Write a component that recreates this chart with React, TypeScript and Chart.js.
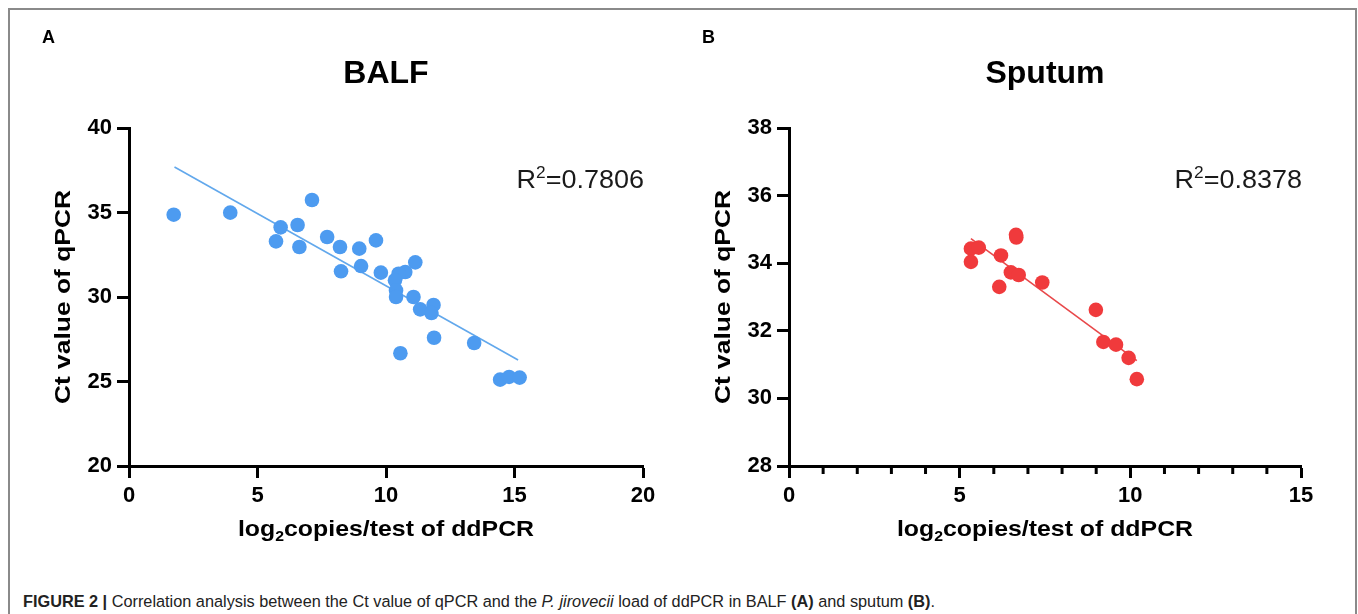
import React, { useEffect, useRef } from "react";
import { Chart, registerables } from "chart.js";

Chart.register(...registerables);

// ---------- data ----------
const balfX = [1.74, 3.94, 7.12, 5.9, 6.56, 5.72, 6.63, 7.71, 8.21, 9.61, 8.96, 8.25, 9.03, 9.8, 11.14, 10.75, 10.49, 10.35, 10.39, 10.39, 11.07, 11.33, 11.85, 11.77, 11.87, 13.43, 10.56, 14.44, 14.79, 15.2];
const balfY = [34.87, 34.99, 35.74, 34.12, 34.26, 33.29, 32.96, 33.55, 32.96, 33.35, 32.86, 31.52, 31.83, 31.44, 32.05, 31.48, 31.38, 30.99, 30.39, 30.0, 30.0, 29.27, 29.53, 29.05, 27.59, 27.28, 26.67, 25.11, 25.27, 25.23];
const balfFitX = [1.77, 15.14];
const balfFitY = [37.69, 26.27];
const balfXTicks = [0, 5, 10, 15, 20];
const balfYTicks = [20, 25, 30, 35, 40];
const balfXMinor: number[] = [];
const balfR2 = "0.7806";

const sputumX = [5.33, 5.56, 5.33, 6.21, 6.65, 6.66, 6.16, 6.5, 6.73, 7.42, 8.99, 9.21, 9.58, 9.95, 10.19];
const sputumY = [34.43, 34.46, 34.04, 34.23, 34.84, 34.76, 33.3, 33.73, 33.65, 33.43, 32.62, 31.67, 31.59, 31.2, 30.57];
const sputumFitX = [5.33, 10.19];
const sputumFitY = [34.73, 31.12];
const sputumXTicks = [0, 5, 10, 15];
const sputumYTicks = [28, 30, 32, 34, 36, 38];
const sputumXMinor = [1, 2, 3, 4, 6, 7, 8, 9, 11, 12, 13, 14];
const sputumR2 = "0.8378";

const FONT = '"Liberation Sans", Arial, Helvetica, sans-serif';

type Panel = {
  letter: string;
  title: string;
  xs: number[];
  ys: number[];
  fitX: number[];
  fitY: number[];
  xTicks: number[];
  yTicks: number[];
  xMinor: number[];
  r2: string;
  color: string;
  lineColor: string;
  left: number;
  width: number;
  plotLeft: number;
  plotRight: number;
};

const CANVAS_H = 560;
const PLOT_TOP = 128;
const PLOT_BOTTOM = 466;

function drawRuns(
  ctx: CanvasRenderingContext2D,
  runs: { text: string; font: string; dy: number }[],
  x: number,
  y: number,
  align: "left" | "center" | "right",
  sx: number
) {
  ctx.save();
  ctx.textBaseline = "alphabetic";
  ctx.textAlign = "left";
  let total = 0;
  const widths = runs.map((r) => {
    ctx.font = r.font;
    const w = ctx.measureText(r.text).width;
    total += w;
    return w;
  });
  total *= sx;
  const start = align === "left" ? x : align === "center" ? x - total / 2 : x - total;
  ctx.translate(start, y);
  ctx.scale(sx, 1);
  let cx = 0;
  runs.forEach((r, i) => {
    ctx.font = r.font;
    ctx.fillText(r.text, cx, r.dy);
    cx += widths[i];
  });
  ctx.restore();
}

function ChartPanel({ p }: { p: Panel }) {
  const ref = useRef<HTMLCanvasElement | null>(null);
  useEffect(() => {
    if (!ref.current) return;
    const overlay = {
      id: "overlay" + p.letter,
      afterDraw(chart: any) {
        const ctx: CanvasRenderingContext2D = chart.ctx;
        const ca = chart.chartArea;
        const xs = chart.scales.x;
        ctx.save();
        ctx.fillStyle = "#000";
        // panel letter
        drawRuns(ctx, [{ text: p.letter, font: `bold 18px ${FONT}`, dy: 0 }], p.plotLeft - 87, 43, "left", 1);
        // title
        drawRuns(ctx, [{ text: p.title, font: `bold 32px ${FONT}`, dy: 0 }], (ca.left + ca.right) / 2, 83, "center", 1);
        // R^2
        ctx.fillStyle = "#1a1a1a";
        drawRuns(
          ctx,
          [
            { text: "R", font: `25px ${FONT}`, dy: 0 },
            { text: "2", font: `16px ${FONT}`, dy: -10 },
            { text: "=" + p.r2, font: `25px ${FONT}`, dy: 0 },
          ],
          ca.right + 1,
          188,
          "right",
          1.08
        );
        ctx.fillStyle = "#000";
        // x title
        drawRuns(
          ctx,
          [
            { text: "log", font: `bold 22px ${FONT}`, dy: 0 },
            { text: "2", font: `bold 14px ${FONT}`, dy: 5 },
            { text: "copies/test of ddPCR", font: `bold 22px ${FONT}`, dy: 0 },
          ],
          (ca.left + ca.right) / 2,
          536,
          "center",
          1.13
        );
        // y title
        ctx.save();
        ctx.translate(ca.left - 65, (ca.top + ca.bottom) / 2);
        ctx.rotate(-Math.PI / 2);
        ctx.scale(1.2, 1);
        ctx.font = `bold 22px ${FONT}`;
        ctx.textAlign = "center";
        ctx.textBaseline = "middle";
        ctx.fillText("Ct value of qPCR", 0, 0);
        ctx.restore();
        // minor x ticks
        ctx.strokeStyle = "#000";
        ctx.lineWidth = 3;
        p.xMinor.forEach((v) => {
          const px = xs.getPixelForValue(v);
          ctx.beginPath();
          ctx.moveTo(px, ca.bottom);
          ctx.lineTo(px, ca.bottom + 8);
          ctx.stroke();
        });
        ctx.restore();
      },
    };

    const tickFont = { family: FONT, size: 22, weight: "bold" as const };
    const chart = new Chart(ref.current, {
      type: "scatter",
      data: {
        datasets: [
          {
            data: p.xs.map((x, i) => ({ x, y: p.ys[i] })),
            backgroundColor: p.color,
            borderWidth: 0,
            pointRadius: 7.3,
            order: 0,
          },
          {
            data: p.fitX.map((x, i) => ({ x, y: p.fitY[i] })),
            showLine: true,
            borderColor: p.lineColor,
            borderWidth: 1.6,
            pointRadius: 0,
            order: 1,
          } as any,
        ],
      },
      options: {
        animation: false,
        responsive: false,
        devicePixelRatio: 1,
        events: [],
        layout: {
          padding: { left: 0, top: PLOT_TOP, right: p.width - p.plotRight, bottom: 0 },
        },
        plugins: { legend: { display: false }, tooltip: { enabled: false }, title: { display: false } },
        scales: {
          x: {
            type: "linear",
            min: p.xTicks[0],
            max: p.xTicks[p.xTicks.length - 1],
            afterBuildTicks: (s: any) => {
              s.ticks = p.xTicks.map((v) => ({ value: v }));
            },
            afterFit: (s: any) => {
              s.height = CANVAS_H - PLOT_BOTTOM;
            },
            border: { display: true, color: "#000", width: 3 },
            grid: { drawOnChartArea: false, drawTicks: true, tickLength: 12, tickWidth: 3, tickColor: "#000" },
            ticks: { color: "#000", font: tickFont, padding: 5, maxRotation: 0 },
          },
          y: {
            type: "linear",
            min: p.yTicks[0],
            max: p.yTicks[p.yTicks.length - 1],
            afterBuildTicks: (s: any) => {
              s.ticks = p.yTicks.map((v) => ({ value: v }));
            },
            afterFit: (s: any) => {
              s.width = p.plotLeft;
            },
            border: { display: true, color: "#000", width: 3 },
            grid: { drawOnChartArea: false, drawTicks: true, tickLength: 12, tickWidth: 3, tickColor: "#000" },
            ticks: { color: "#000", font: tickFont, padding: 5 },
          },
        },
      },
      plugins: [overlay],
    });
    return () => chart.destroy();
  }, [p]);
  return (
    <canvas
      ref={ref}
      width={p.width}
      height={CANVAS_H}
      style={{ position: "absolute", left: p.left, top: 0, width: p.width, height: CANVAS_H }}
    />
  );
}

const panelA: Panel = {
  letter: "A",
  title: "BALF",
  xs: balfX,
  ys: balfY,
  fitX: balfFitX,
  fitY: balfFitY,
  xTicks: balfXTicks,
  yTicks: balfYTicks,
  xMinor: balfXMinor,
  r2: balfR2,
  color: "#4d9bf0",
  lineColor: "#62a8ec",
  left: 0,
  width: 680,
  plotLeft: 129,
  plotRight: 643,
};

const panelB: Panel = {
  letter: "B",
  title: "Sputum",
  xs: sputumX,
  ys: sputumY,
  fitX: sputumFitX,
  fitY: sputumFitY,
  xTicks: sputumXTicks,
  yTicks: sputumYTicks,
  xMinor: sputumXMinor,
  r2: sputumR2,
  color: "#f03a3c",
  lineColor: "#e8484a",
  left: 680,
  width: 678,
  plotLeft: 109,
  plotRight: 621,
};

export default function App() {
  return (
    <div
      style={{
        position: "absolute",
        left: 0,
        top: 0,
        width: 1358,
        height: 614,
        overflow: "hidden",
        background: "#fff",
      }}
    >
      <div
        style={{
          position: "absolute",
          left: 8,
          top: 8,
          width: 1349,
          height: 700,
          border: "2px solid #8a8a8a",
          boxSizing: "border-box",
        }}
      />
      <ChartPanel p={panelA} />
      <ChartPanel p={panelB} />
      <div
        style={{
          position: "absolute",
          left: 23,
          top: 592,
          font: `16.3px ${FONT}`,
          color: "#222",
          whiteSpace: "nowrap",
        }}
      >
        <b>FIGURE 2 |</b> Correlation analysis between the Ct value of qPCR and the <i>P. jirovecii</i> load of ddPCR
        in BALF <b>(A)</b> and sputum <b>(B)</b>.
      </div>
    </div>
  );
}
